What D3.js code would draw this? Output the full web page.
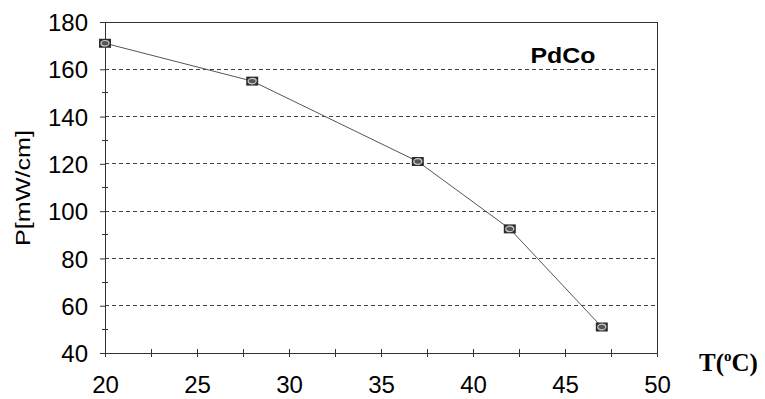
<!DOCTYPE html>
<html><head><meta charset="utf-8">
<script src="https://cdnjs.cloudflare.com/ajax/libs/d3/7.8.5/d3.min.js"></script>
<style>body{margin:0;background:#fff}svg{display:block}</style>
</head><body><svg id="c" width="765" height="399"></svg>
<script>
const temps = [20, 28, 37, 42, 47];
const power = [171, 155, 121, 92.5, 51];
const xTicks = [20, 25, 30, 35, 40, 45, 50];
const yTicks = [40, 60, 80, 100, 120, 140, 160, 180];
const seriesName = "PdCo";

const svg = d3.select("#c");
const L = 105, R = 657, T = 22, B = 353;
const x = d3.scaleLinear().domain([20, 50]).range([L, R]);
const y = d3.scaleLinear().domain([40, 180]).range([B, T]);
const font = "'Liberation Sans', Arial, sans-serif";

// gridlines
svg.append("g").selectAll("line").data(yTicks.filter(v => v > 40 && v < 180)).join("line")
  .attr("x1", L).attr("x2", R).attr("y1", d => y(d)).attr("y2", d => y(d))
  .attr("stroke", "#444").attr("stroke-width", 1).attr("stroke-dasharray", "4,3")
  .attr("shape-rendering", "crispEdges");

// frame top/right
svg.append("line").attr("x1", L).attr("x2", R).attr("y1", T).attr("y2", T)
  .attr("stroke", "#333").attr("shape-rendering", "crispEdges");
svg.append("line").attr("x1", R).attr("x2", R).attr("y1", T).attr("y2", B)
  .attr("stroke", "#333").attr("shape-rendering", "crispEdges");

// minor ticks
const minorY = d3.range(50, 180, 20);
svg.append("g").selectAll("line").data(minorY).join("line")
  .attr("x1", L - 3).attr("x2", L + 3).attr("y1", d => y(d)).attr("y2", d => y(d))
  .attr("stroke", "#333").attr("shape-rendering", "crispEdges");
const minorX = d3.range(22.5, 50, 5);
svg.append("g").selectAll("line").data(minorX).join("line")
  .attr("y1", B - 4).attr("y2", B + 4).attr("x1", d => x(d)).attr("x2", d => x(d))
  .attr("stroke", "#333").attr("shape-rendering", "crispEdges");

// y axis
const gy = svg.append("g").attr("transform", `translate(${L},0)`)
  .call(d3.axisLeft(y).tickValues(yTicks).tickSize(5).tickPadding(12).tickFormat(d3.format("d")));
gy.select(".domain").attr("stroke", "#333");
gy.selectAll(".tick line").attr("stroke", "#333");
gy.selectAll("text").attr("font-family", font).attr("font-size", 24).attr("fill", "#000")
  .attr("dy", "0.36em");

// x axis
const gx = svg.append("g").attr("transform", `translate(0,${B})`)
  .call(d3.axisBottom(x).tickValues(xTicks).tickSizeInner(4).tickSizeOuter(0).tickPadding(19).tickFormat(d3.format("d")));
gx.select(".domain").attr("stroke", "#333");
gx.selectAll(".tick line").attr("stroke", "#333").attr("y1", -4).attr("y2", 4);
gx.selectAll("text").attr("font-family", font).attr("font-size", 24).attr("fill", "#000");

// line
const data = temps.map((t, i) => ({t, p: power[i]}));
svg.append("path").datum(data)
  .attr("d", d3.line().x(d => x(d.t)).y(d => y(d.p)))
  .attr("fill", "none").attr("stroke", "#555").attr("stroke-width", 1);

// markers
const m = svg.append("g").selectAll("g").data(data).join("g")
  .attr("transform", d => `translate(${x(d.t)},${y(d.p)})`);
m.append("rect").attr("x", -6).attr("y", -4.5).attr("width", 12).attr("height", 9)
  .attr("fill", "#2e2e2e");
m.append("ellipse").attr("rx", 4).attr("ry", 2.8).attr("fill", "#555").attr("stroke", "#c8c8c8").attr("stroke-width", 1.2);

// series label
svg.append("text").attr("x", 563).attr("y", 63).attr("text-anchor", "middle")
  .attr("font-family", font).attr("font-weight", "bold").attr("font-size", 22)
  .attr("textLength", 65).attr("lengthAdjust", "spacingAndGlyphs")
  .text(seriesName);

// y label
svg.append("text").attr("transform", "translate(30,188) rotate(-90)").attr("text-anchor", "middle")
  .attr("font-family", font).attr("font-size", 21)
  .attr("textLength", 116).attr("lengthAdjust", "spacingAndGlyphs")
  .text("P[mW/cm]");

// x label
const xl = svg.append("text").attr("x", 699).attr("y", 371)
  .attr("font-family", "'Liberation Serif', 'Times New Roman', serif").attr("font-weight", "bold").attr("font-size", 25);
xl.append("tspan").text("T(");
xl.append("tspan").attr("font-size", 15).attr("dy", -10).text("o");
xl.append("tspan").attr("dy", 10).text("C)");
</script></body></html>
